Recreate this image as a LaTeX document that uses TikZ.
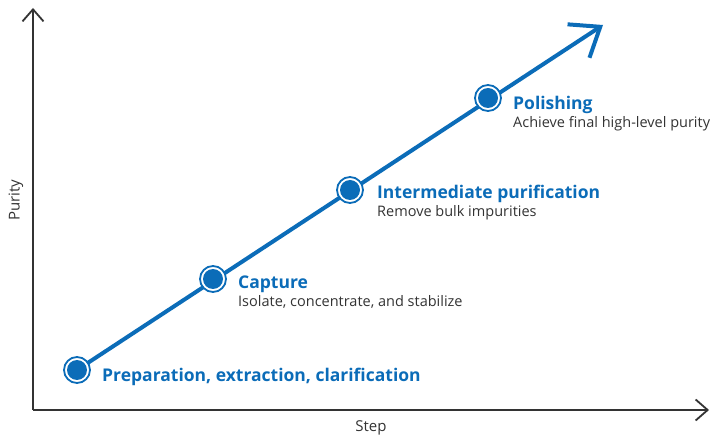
\documentclass[tikz,border=0pt]{standalone}
\usepackage{fontspec}
\setmainfont{Open Sans}
\usetikzlibrary{arrows.meta,positioning}
\definecolor{Blue}{HTML}{0B6CB8}
\definecolor{Ink}{HTML}{333333}
\tikzset{
 axis/.style={draw=Ink, line width=1.8pt, -{Straight Barb[length=12pt,width=21pt]}},
 axislabel/.style={text=Ink, font=\fontsize{15}{18}\selectfont, inner sep=0pt},
 trend/.style={draw=Blue, line width=4pt, -{Straight Barb[length=26pt,width=40pt]}},
 stage/.style={circle, draw=Blue, line width=1.8pt, fill=white, minimum size=26pt, inner sep=0pt,
  path picture={\fill[Blue] (path picture bounding box.center) circle (10pt);}},
 stagetitle/.style={anchor=base west, text=Blue, font=\fontsize{17.5}{21}\selectfont\bfseries, inner sep=0pt},
 stagenote/.style={anchor=base west, text=Ink, font=\fontsize{14.5}{17}\selectfont, inner sep=0pt}
}
\begin{document}
\begin{tikzpicture}[x=1pt,y=-1pt]
\useasboundingbox (0,0) rectangle (710,438);
% axes
\coordinate (origin) at (33,410);
\coordinate (ytop) at (33,8);
\coordinate (xend) at (709,410);
\draw[axis] (origin) -- (ytop);
\draw[axis] (origin) -- (xend);
\node[axislabel, rotate=90] (ylab) at (16,200) {Purity};
\node[axislabel] (xlab) at (371,428) {Step};
% trend line
\coordinate (s1) at (77,370);
\coordinate (s2) at (213,279);
\coordinate (s3) at (350,190);
\coordinate (s4) at (488,98);
\coordinate (tip) at (603,25);
\draw[trend] (s1) -- (tip);
\node[stage] (p1) at (s1) {};
\node[stage] (p2) at (s2) {};
\node[stage] (p3) at (s3) {};
\node[stage] (p4) at (s4) {};
% labels
\node[stagetitle] (t1) at ([xshift=25pt,yshift=-12pt]p1.center) {Preparation, extraction, clarification};
\node[stagetitle] (t2) at ([xshift=25pt,yshift=-10pt]p2.center) {Capture};
\node[stagenote] (n2) at ([yshift=-18pt]t2.base west) {Isolate, concentrate, and stabilize};
\node[stagetitle] (t3) at ([xshift=27pt,yshift=-9pt]p3.center) {Intermediate purification};
\node[stagenote] (n3) at ([yshift=-18pt]t3.base west) {Remove bulk impurities};
\node[stagetitle] (t4) at ([xshift=25pt,yshift=-12pt]p4.center) {Polishing};
\node[stagenote] (n4) at ([yshift=-18pt]t4.base west) {Achieve final high-level purity};
\end{tikzpicture}
\end{document}
